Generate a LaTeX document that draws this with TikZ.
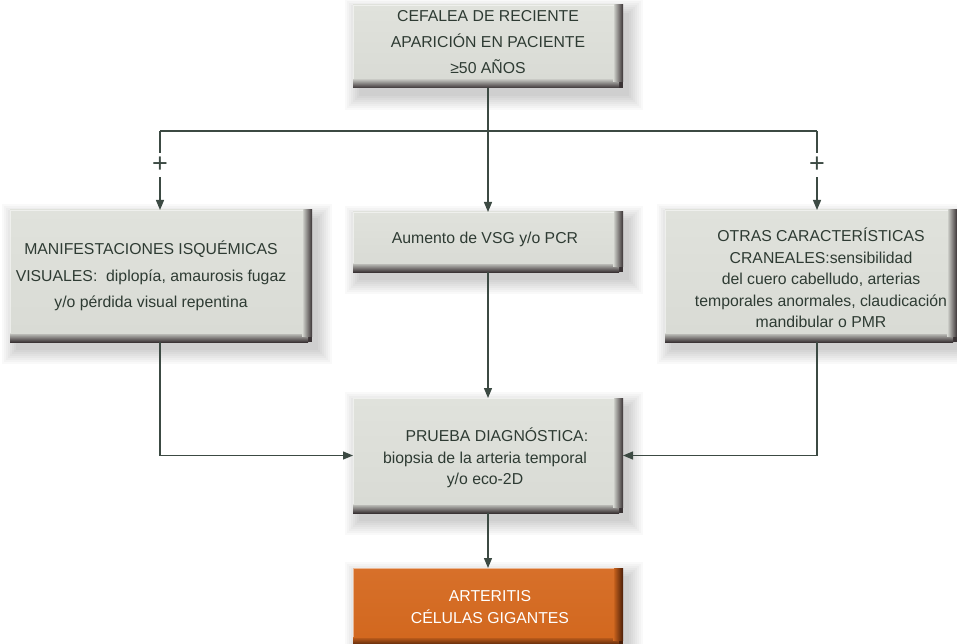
\documentclass[tikz,border=0pt]{standalone}
\usepackage{fontspec}
\setmainfont{Liberation Sans}
\usetikzlibrary{arrows.meta,calc}
\definecolor{facegray}{HTML}{D9DBD5}
\definecolor{facegraytop}{HTML}{E0E2DC}
\definecolor{darkbevel}{HTML}{3A3335}
\definecolor{faceorange}{HTML}{D2681F}
\definecolor{faceorangetop}{HTML}{D7702A}
\definecolor{darkorange}{HTML}{4A1E08}
\definecolor{txtgreen}{HTML}{2E3B33}
\definecolor{linegreen}{HTML}{3C4A43}
% #1 x1, #2 y1, #3 x2, #4 y2, #5 face top, #6 face, #7 dark
\newcommand{\bevelbox}[7]{%
  \foreach \k in {0,2,4,6,8,10,12,14}{%
    \fill[black,opacity=0.025] (#1+6-\k,#2+8-\k) rectangle (#3+6+\k,#4+8+\k);
  }
  \fill[#7] (#1,#2) rectangle (#3,#4);
  \shade[top color=#6,bottom color=#7] (#1,#4-10) rectangle (#3-4,#4);
  \shade[left color=#6,right color=#7] (#3-10,#2) rectangle (#3,#4-6);
  \shade[top color=#5,bottom color=#6] (#1,#2) rectangle (#3-9,#4-9);
  \draw[white,opacity=0.5,line width=0.8] (#1+0.4,#4-9) -- (#1+0.4,#2+0.4) -- (#3-9,#2+0.4);
}
\tikzset{
  boxnode/.style={draw=none,inner sep=0pt,outer sep=0pt,rectangle,text=txtgreen,align=center},
  conn/.style={draw=linegreen,line width=1.3pt},
  arr/.style={conn,-{Triangle[length=10pt,width=8pt]}},
  plusnode/.style={inner sep=0pt,minimum size=24pt,text=linegreen,font=\fontsize{27}{27}\selectfont}
}
\begin{document}
\begin{tikzpicture}[x=1pt,y=-1pt]
\useasboundingbox (0,0) rectangle (957,644);
\fill[white] (0,0) rectangle (957,644);
% boxes
\bevelbox{353}{5}{623}{88}{facegraytop}{facegray}{darkbevel}
\bevelbox{10}{210}{312}{342}{facegraytop}{facegray}{darkbevel}
\bevelbox{353}{212}{623}{272}{facegraytop}{facegray}{darkbevel}
\bevelbox{665}{210}{957}{342}{facegraytop}{facegray}{darkbevel}
\bevelbox{353}{398}{623}{513}{facegraytop}{facegray}{darkbevel}
\bevelbox{353}{568}{623}{646}{faceorangetop}{faceorange}{darkorange}
% nodes
\node[boxnode,minimum width=270pt,minimum height=83pt] (top) at (488,46.5) {};
\node[boxnode,font=\fontsize{15.8}{26}\selectfont] (toptext) at (488,42) {CEFALEA DE RECIENTE\\APARICIÓN EN PACIENTE\\≥50 AÑOS};
\node[boxnode,minimum width=302pt,minimum height=132pt] (left) at (161,276) {};
\node[boxnode,font=\fontsize{15.8}{26.5}\selectfont] (lefttext) at (151,276) {MANIFESTACIONES ISQUÉMICAS\\VISUALES:\ \ diplopía, amaurosis fugaz\\y/o pérdida visual repentina};
\node[boxnode,minimum width=270pt,minimum height=60pt] (mid) at (488,242) {};
\node[boxnode,font=\fontsize{15.8}{20}\selectfont] (midtext) at (485,239) {Aumento de VSG y/o PCR};
\node[boxnode,minimum width=292pt,minimum height=132pt] (right) at (811,276) {};
\node[boxnode,font=\fontsize{15.8}{21.5}\selectfont] (righttext) at (821,278) {OTRAS CARACTERÍSTICAS\\CRANEALES:sensibilidad\\del cuero cabelludo, arterias\\temporales anormales, claudicación\\mandibular o PMR};
\node[boxnode,minimum width=270pt,minimum height=115pt] (prueba) at (488,455.5) {};
\node[boxnode,font=\fontsize{15.8}{21.5}\selectfont] (pruebatext) at (485,458) {\hspace*{1.5em}PRUEBA DIAGNÓSTICA:\\biopsia de la arteria temporal\\y/o eco-2D};
\node[boxnode,minimum width=270pt,minimum height=76pt] (art) at (488,606) {};
\node[boxnode,text=white,font=\fontsize{15.8}{21.5}\selectfont] (arttext) at (490,607) {ARTERITIS\\CÉLULAS GIGANTES};
% connectors
\coordinate (lx) at (160,131);
\coordinate (rx) at (817,131);
\node[plusnode] (plusL) at (160,165) {+};
\node[plusnode] (plusR) at (817,165) {+};
\draw[conn] (lx) -- (rx);
\draw[conn] (lx) -- (plusL.north);
\draw[conn] (rx) -- (plusR.north);
\draw[arr] (plusL.south) -- (left.north -| plusL);
\draw[arr] (plusR.south) -- (right.north -| plusR);
\draw[arr] (top.south) -- (mid.north);
\draw[arr] (mid.south) -- (prueba.north);
\draw[arr] (left.south -| lx) |- (prueba.west);
\draw[arr] (right.south -| rx) |- (prueba.east);
\draw[arr] (prueba.south) -- (art.north);
\end{tikzpicture}
\end{document}
